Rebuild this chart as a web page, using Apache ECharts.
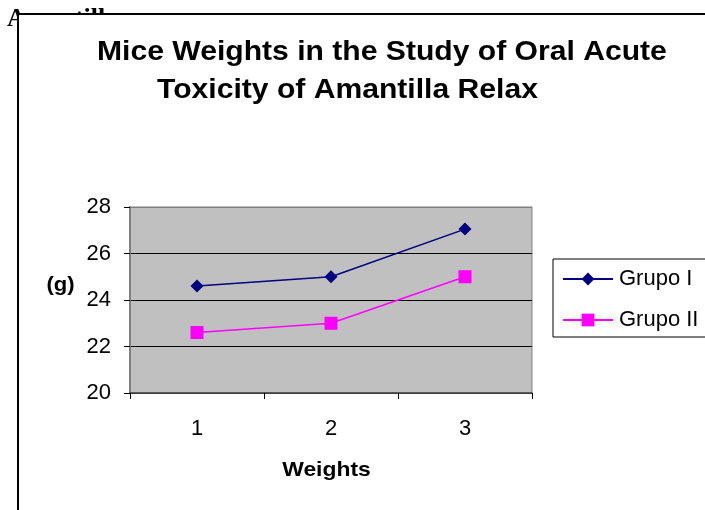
<!DOCTYPE html>
<html><head><meta charset="utf-8">
<script src="https://cdn.jsdelivr.net/npm/echarts@6/dist/echarts.min.js"></script>
<style>html,body{margin:0;padding:0;background:#fff}#c{width:705px;height:510px}</style>
</head><body><div id="c"></div>
<script>
const categories = ['1', '2', '3'];
const grupoI = [24.6, 25.0, 27.05];
const grupoII = [22.6, 23.0, 25.0];
const seriesNames = ['Grupo I', 'Grupo II'];
const titleLines = ['Mice Weights in the Study of Oral Acute', 'Toxicity of Amantilla Relax'];
const xName = 'Weights';
const yName = '(g)';

const chart = echarts.init(document.getElementById('c'));
const font = '"Liberation Sans", Arial, sans-serif';
chart.setOption({
  animation: false,
  backgroundColor: '#fff',
  graphic: [
    { type: 'text', x: 7, y: 6, z: -10, style: { text: 'Amantilla', font: 'bold 26px "Liberation Serif", "Times New Roman", serif', fill: '#000', align: 'left', verticalAlign: 'top' } },
    { type: 'rect', shape: { x: 18, y: 14, width: 700, height: 510 }, z: -5, style: { fill: '#fff', stroke: '#000', lineWidth: 2 } },
    { type: 'text', x: 97, y: 52.5, scaleX: 1.115, z: 10, style: { text: titleLines[0], font: 'bold 27px ' + font, fill: '#000', align: 'left', verticalAlign: 'middle' } },
    { type: 'text', x: 157, y: 90.5, scaleX: 1.115, z: 10, style: { text: titleLines[1], font: 'bold 27px ' + font, fill: '#000', align: 'left', verticalAlign: 'middle' } },
    { type: 'text', x: 326.5, y: 470.5, scaleX: 1.09, z: 10, style: { text: xName, font: 'bold 21px ' + font, fill: '#000', align: 'center', verticalAlign: 'middle' } },
    { type: 'text', x: 60.5, y: 285, scaleX: 1.05, z: 10, style: { text: yName, font: 'bold 21px ' + font, fill: '#000', align: 'center', verticalAlign: 'middle' } }
  ],
  legend: {
    orient: 'vertical', left: 553, top: 259, data: seriesNames,
    borderColor: '#000', borderWidth: 1, padding: [9, 40, 6, 9],
    itemWidth: 50, itemHeight: 16, itemGap: 19,
    textStyle: { fontFamily: font, fontSize: 22, lineHeight: 22, color: '#000', padding: [0, 0, 0, 1] }
  },
  grid: { left: 130, top: 207, width: 402, height: 186, show: true, backgroundColor: '#C0C0C0', borderColor: '#808080', borderWidth: 1 },
  xAxis: {
    type: 'category', data: categories, boundaryGap: true,
    axisLine: { lineStyle: { color: '#404040', width: 1.5 } },
    axisTick: { show: true, length: 6, lineStyle: { color: '#000' } },
    axisLabel: { fontFamily: font, fontSize: 22, color: '#000', margin: 25 }
  },
  yAxis: {
    type: 'value', min: 20, max: 28, interval: 2,
    axisLine: { show: true, lineStyle: { color: '#808080', width: 2 } },
    axisTick: { show: true, length: 6, lineStyle: { color: '#000' } },
    axisLabel: { fontFamily: font, fontSize: 22, color: '#000', margin: 19 },
    splitLine: { show: true, lineStyle: { color: ['#404040', '#000', '#000', '#000', '#808080'], width: 1 } }
  },
  series: [
    { name: seriesNames[0], type: 'line', data: grupoI, symbol: 'diamond', symbolSize: 13,
      lineStyle: { color: '#000080', width: 1.5 }, itemStyle: { color: '#000080' } },
    { name: seriesNames[1], type: 'line', data: grupoII, symbol: 'rect', symbolSize: 13,
      lineStyle: { color: '#FF00FF', width: 1.5 }, itemStyle: { color: '#FF00FF' } }
  ]
});
</script></body></html>
